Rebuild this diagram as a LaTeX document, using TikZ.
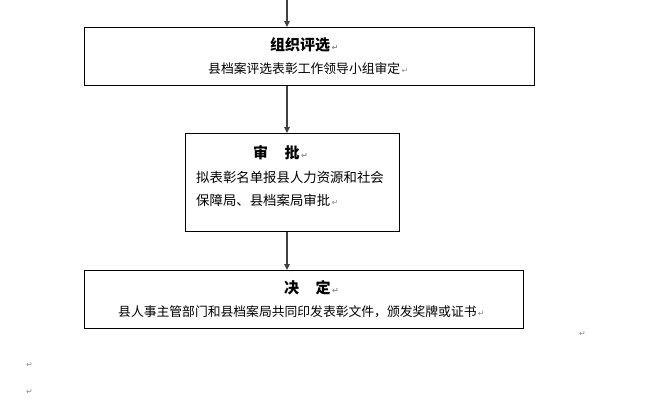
\documentclass[tikz,border=0pt]{standalone}
\usepackage{fontspec}
\setmainfont{Noto Sans CJK SC}
\newfontfamily\symfont{DejaVu Sans}
\usetikzlibrary{arrows.meta}
\tikzset{
  box/.style={draw=black, line width=1.3pt, inner sep=0pt, anchor=north west},
  conn/.style={draw=black!75, line width=1.1pt, -{Triangle[length=6pt,width=5.5pt]}},
  titletext/.style={anchor=west, inner sep=0pt, font=\fontsize{15}{18}\selectfont\bfseries},
  bodytext/.style={anchor=west, inner sep=0pt, font=\fontsize{12.8}{16}\selectfont},
  parmark/.style={anchor=west, inner sep=0pt, text=black!45, font=\symfont\fontsize{8}{9}\selectfont}
}
\newcommand{\retmark}{{\symfont\fontsize{8}{9}\selectfont\color{black!45}\,↵}}
\begin{document}
\begin{tikzpicture}[x=1pt,y=-1pt]
\useasboundingbox (0,0) rectangle (656,400);
% boxes
\node[box, minimum width=450pt, minimum height=58pt] (b1) at (84,27) {};
\node[box, minimum width=214pt, minimum height=98pt] (b2) at (185,133) {};
\node[box, minimum width=439pt, minimum height=58pt] (b3) at (84,270) {};
% texts
\node[titletext] (t1) at (270,45) {组织评选\retmark};
\node[bodytext] (s1) at (208,69) {县档案评选表彰工作领导小组审定\retmark};
\node[titletext] (t2) at (253,153) {审\hspace{1.1em}批\retmark};
\node[bodytext, font=\fontsize{13.4}{16}\selectfont] (s2a) at (196,177) {拟表彰名单报县人力资源和社会};
\node[bodytext, font=\fontsize{13.4}{16}\selectfont] (s2b) at (196,200) {保障局、县档案局审批\retmark};
\node[titletext] (t3) at (284,288) {决\hspace{1.1em}定\retmark};
\node[bodytext] (s3) at (118,312) {县人事主管部门和县档案局共同印发表彰文件，颁发奖牌或证书\retmark};
% stray paragraph marks
\node[parmark] (m1) at (579,334) {↵};
\node[parmark] (m2) at (26,365) {↵};
\node[parmark] (m3) at (26,392) {↵};
% connectors
\coordinate (top) at (287,0);
\draw[conn] (top) -- (top |- b1.north);
\draw[conn] (b1.south -| top) -- (top |- b2.north);
\draw[conn] (b2.south -| top) -- (top |- b3.north);
\end{tikzpicture}
\end{document}
